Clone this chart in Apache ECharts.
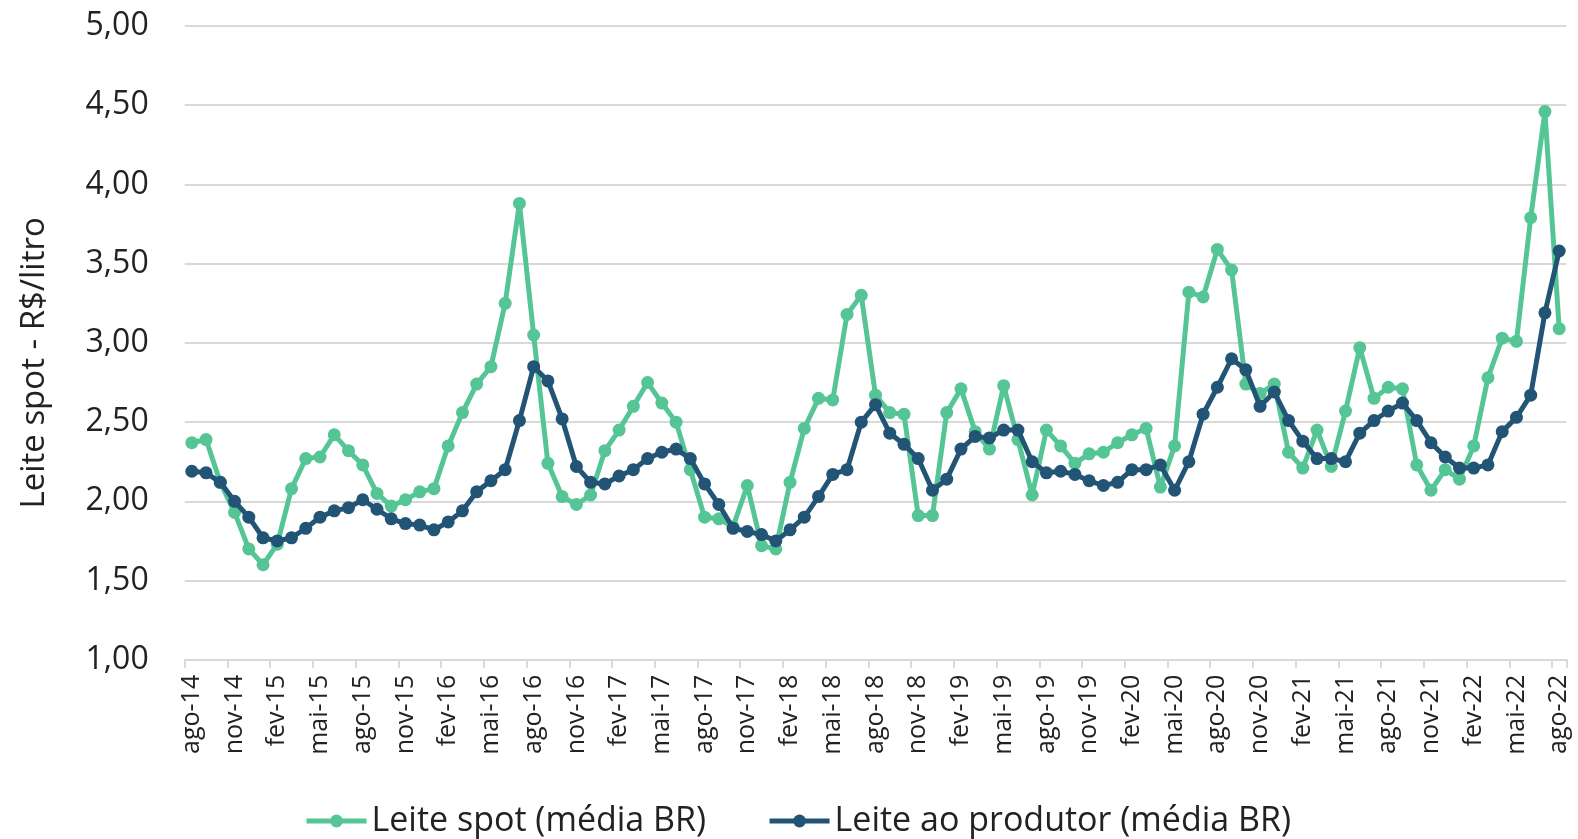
<!DOCTYPE html>
<html>
<head>
<meta charset="utf-8">
<script src="https://cdn.jsdelivr.net/npm/echarts@6/dist/echarts.min.js"></script>
<style>
  html, body { margin: 0; padding: 0; background: #ffffff; }
  #chart { width: 1578px; height: 839px; }
</style>
</head>
<body>
<div id="chart"></div>
<script>
const categories = [
  'ago-14','set-14','out-14','nov-14','dez-14',
  'jan-15','fev-15','mar-15','abr-15','mai-15','jun-15','jul-15','ago-15','set-15','out-15','nov-15','dez-15',
  'jan-16','fev-16','mar-16','abr-16','mai-16','jun-16','jul-16','ago-16','set-16','out-16','nov-16','dez-16',
  'jan-17','fev-17','mar-17','abr-17','mai-17','jun-17','jul-17','ago-17','set-17','out-17','nov-17','dez-17',
  'jan-18','fev-18','mar-18','abr-18','mai-18','jun-18','jul-18','ago-18','set-18','out-18','nov-18','dez-18',
  'jan-19','fev-19','mar-19','abr-19','mai-19','jun-19','jul-19','ago-19','set-19','out-19','nov-19','dez-19',
  'jan-20','fev-20','mar-20','abr-20','mai-20','jun-20','jul-20','ago-20','set-20','out-20','nov-20','dez-20',
  'jan-21','fev-21','mar-21','abr-21','mai-21','jun-21','jul-21','ago-21','set-21','out-21','nov-21','dez-21',
  'jan-22','fev-22','mar-22','abr-22','mai-22','jun-22','jul-22','ago-22'
];

const leiteSpot = [
  2.37, 2.39, 2.12, 1.93, 1.70, 1.60, 1.73, 2.08, 2.27, 2.28,
  2.42, 2.32, 2.23, 2.05, 1.97, 2.01, 2.06, 2.08, 2.35, 2.56,
  2.74, 2.85, 3.25, 3.88, 3.05, 2.24, 2.03, 1.98, 2.04, 2.32,
  2.45, 2.60, 2.75, 2.62, 2.50, 2.20, 1.90, 1.89, 1.84, 2.10,
  1.72, 1.70, 2.12, 2.46, 2.65, 2.64, 3.18, 3.30, 2.67, 2.56,
  2.55, 1.91, 1.91, 2.56, 2.71, 2.44, 2.33, 2.73, 2.39, 2.04,
  2.45, 2.35, 2.24, 2.30, 2.31, 2.37, 2.42, 2.46, 2.09, 2.35,
  3.32, 3.29, 3.59, 3.46, 2.74, 2.68, 2.74, 2.31, 2.21, 2.45,
  2.22, 2.57, 2.97, 2.65, 2.72, 2.71, 2.23, 2.07, 2.20, 2.14,
  2.35, 2.78, 3.03, 3.01, 3.79, 4.46, 3.09
];

const leiteProdutor = [
  2.19, 2.18, 2.12, 2.00, 1.90, 1.77, 1.75, 1.77, 1.83, 1.90,
  1.94, 1.96, 2.01, 1.95, 1.89, 1.86, 1.85, 1.82, 1.87, 1.94,
  2.06, 2.13, 2.20, 2.51, 2.85, 2.76, 2.52, 2.22, 2.12, 2.11,
  2.16, 2.20, 2.27, 2.31, 2.33, 2.27, 2.11, 1.98, 1.83, 1.81,
  1.79, 1.75, 1.82, 1.90, 2.03, 2.17, 2.20, 2.50, 2.61, 2.43,
  2.36, 2.27, 2.07, 2.14, 2.33, 2.41, 2.40, 2.45, 2.45, 2.25,
  2.18, 2.19, 2.17, 2.13, 2.10, 2.12, 2.20, 2.20, 2.23, 2.07,
  2.25, 2.55, 2.72, 2.90, 2.83, 2.60, 2.69, 2.51, 2.38, 2.27,
  2.27, 2.25, 2.43, 2.51, 2.57, 2.62, 2.51, 2.37, 2.28, 2.21,
  2.21, 2.23, 2.44, 2.53, 2.67, 3.19, 3.58
];

const seriesNames = ['Leite spot (média BR)', 'Leite ao produtor (média BR)'];
const yAxisName = 'Leite spot - R$/litro';
const yMin = 1, yMax = 5, yStep = 0.5;

const GREEN = '#55c596';
const BLUE = '#225476';
const FONT = 'Open Sans';

const chart = echarts.init(document.getElementById('chart'), null, { renderer: 'canvas' });

const option = {
  backgroundColor: '#ffffff',
  animation: false,
  grid: { left: 184.7, right: 11.7, top: 26, bottom: 179.2, containLabel: false },
  legend: {
    data: seriesNames,
    top: 799,
    left: 299,
    itemWidth: 60,
    itemHeight: 16,
    itemGap: 61,
    lineStyle: { width: 5 },
    textStyle: { fontFamily: FONT, fontSize: 34, color: '#222222' }
  },
  xAxis: {
    type: 'category',
    data: categories,
    boundaryGap: true,
    axisLine: { show: true, lineStyle: { color: '#d9d9d9', width: 2 } },
    axisTick: { show: true, interval: 2, length: 8, lineStyle: { color: '#d9d9d9', width: 2 } },
    axisLabel: {
      interval: 2,
      rotate: 90,
      margin: 15,
      fontFamily: FONT,
      fontSize: 25,
      color: '#222222'
    },
    splitLine: { show: false }
  },
  yAxis: {
    type: 'value',
    min: yMin,
    max: yMax,
    interval: yStep,
    name: yAxisName,
    nameLocation: 'middle',
    nameGap: 134,
    nameTextStyle: { fontFamily: FONT, fontSize: 33, color: '#222222', padding: [0, 40, 0, 0] },
    axisLine: { show: false },
    axisTick: { show: false },
    axisLabel: {
      margin: 36,
      fontFamily: FONT,
      fontSize: 32,
      color: '#222222',
      formatter: v => v.toFixed(2).replace('.', ',')
    },
    splitLine: { show: true, lineStyle: { color: '#d9d9d9', width: 2 } }
  },
  series: [
    {
      name: seriesNames[0],
      type: 'line',
      data: leiteSpot,
      symbol: 'circle',
      symbolSize: 13,
      showAllSymbol: true,
      lineStyle: { color: GREEN, width: 5 },
      itemStyle: { color: GREEN },
      z: 2
    },
    {
      name: seriesNames[1],
      type: 'line',
      data: leiteProdutor,
      symbol: 'circle',
      symbolSize: 13,
      showAllSymbol: true,
      lineStyle: { color: BLUE, width: 5 },
      itemStyle: { color: BLUE },
      z: 3
    }
  ]
};

chart.setOption(option);
</script>
</body>
</html>
